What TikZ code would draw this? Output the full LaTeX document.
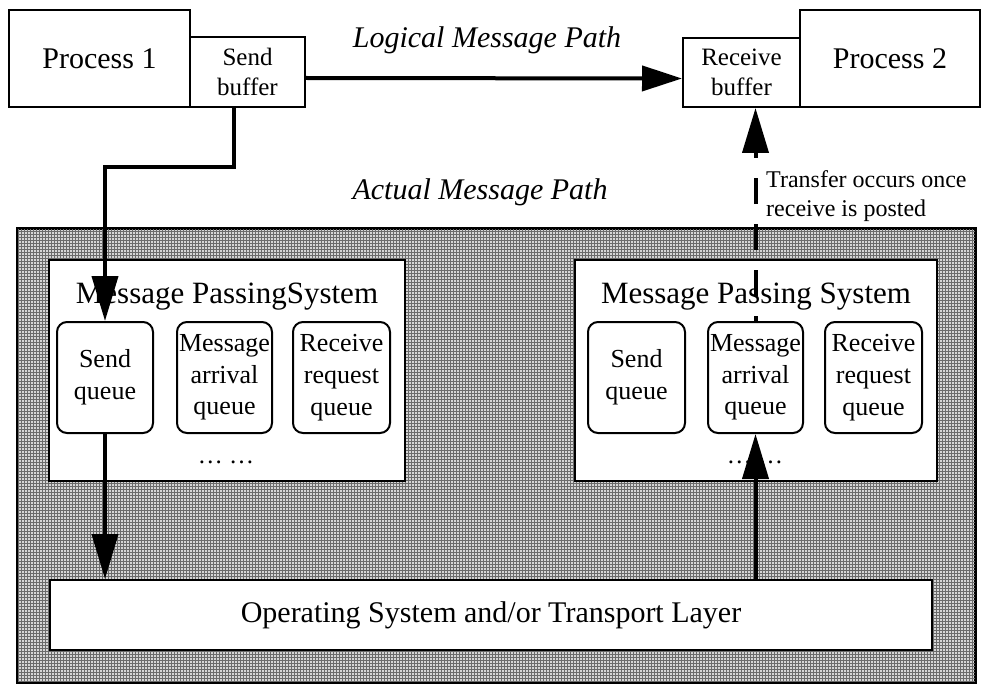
\documentclass[tikz,border=0pt]{standalone}
\usepackage{fontspec}
\setmainfont{Liberation Serif}
\usetikzlibrary{arrows.meta,patterns}

\newcommand{\fs}[1]{\fontsize{#1pt}{1.22\dimexpr#1pt\relax}\selectfont}

\tikzset{
  plainbox/.style={draw=black, line width=2pt, fill=white, inner sep=0pt, align=center},
  queuebox/.style={plainbox, rounded corners=10pt, minimum width=96pt, minimum height=111pt,
                   font=\fs{26}},
  bigarrow/.style={line width=4pt, -{Triangle[length=45pt,width=26pt]}},
  pathlabel/.style={font=\fs{30}\itshape, inner sep=0pt},
}

\begin{document}
\begin{tikzpicture}[x=1pt, y=-1pt]
  \useasboundingbox (0,0) rectangle (987,687);

  % shaded system area
  \node[draw=black, line width=2pt, fill=black!16, minimum width=957pt, minimum height=453pt,
        inner sep=0pt] (sys) at (496.5,455.5) {};
  \fill[pattern=grid, pattern color=black!58] (sys.north west) rectangle (sys.south east);
  \draw[line width=2pt] (sys.north west) rectangle (sys.south east);

  % processes and buffers
  \node[plainbox, minimum width=181pt, minimum height=97pt, font=\fs{30}] (p1) at (99.5,58.5) {Process 1};
  \node[plainbox, minimum width=115pt, minimum height=70pt, font=\fs{25}] (sb) at (247.5,72) {Send\\buffer};
  \node[plainbox, minimum width=180pt, minimum height=97pt, font=\fs{30}] (p2) at (890,58.5) {Process 2};
  \node[plainbox, minimum width=117pt, minimum height=69pt, font=\fs{25}] (rb) at (741.5,72.5) {Receive\\buffer};

  \node[pathlabel] (lmp) at (487,40) {Logical Message Path};
  \node[pathlabel] (amp) at (480,192) {Actual Message Path};

  % message passing systems
  \node[plainbox, minimum width=356pt, minimum height=221pt] (mps1) at (227,370.5) {};
  \node[plainbox, minimum width=362pt, minimum height=221pt] (mps2) at (756,370.5) {};
  \node[font=\fs{31}, inner sep=0pt] (t1) at (227,297) {Message PassingSystem};
  \node[font=\fs{31}, inner sep=0pt] (t2) at (756,297) {Message Passing System};

  \node[queuebox] (sq1) at (105,377.5) {Send\\queue};
  \node[queuebox, minimum width=95pt] (ma1) at (224.5,377.5) {Message\\arrival\\queue};
  \node[queuebox, minimum width=97pt] (rq1) at (341.5,377.5) {Receive\\request\\queue};
  \node[queuebox, minimum width=97pt] (sq2) at (636.5,377.5) {Send\\queue};
  \node[queuebox, minimum width=95pt] (ma2) at (755.5,377.5) {Message\\arrival\\queue};
  \node[queuebox, minimum width=97pt] (rq2) at (873.5,377.5) {Receive\\request\\queue};

  \node[font=\fs{25}, inner sep=0pt] (dots1) at (226,462) {… …};
  \node[font=\fs{25}, inner sep=0pt] (dots2) at (755,462) {… …};

  % transport layer
  \node[plainbox, minimum width=882pt, minimum height=70pt, font=\fs{30}] (os) at (491,615)
    {Operating System and/or Transport Layer};

  % logical path
  \draw[bigarrow, -{Triangle[length=40pt,width=25pt]}] ([yshift=-6pt]sb.east) -- ([yshift=-6pt]rb.west);

  % actual path, sending side
  \coordinate (c1) at (234,167);
  \draw[bigarrow] (sb.south -| c1) -- (c1) -- (c1 -| sq1.north) -- (sq1.north);
  \draw[bigarrow] (sq1.south) -- (sq1.south |- os.north);

  % actual path, receiving side
  \draw[bigarrow] (ma2.south |- os.north) -- (ma2.south);
  \draw[bigarrow, dash pattern=on 26pt off 20pt, dash phase=21pt] (ma2.north) -- (ma2.north |- rb.south);

  \node[font=\fs{24}, align=left, inner sep=0pt, anchor=north west] (note) at (766,170)
    {Transfer occurs once\\receive is posted};
\end{tikzpicture}
\end{document}
